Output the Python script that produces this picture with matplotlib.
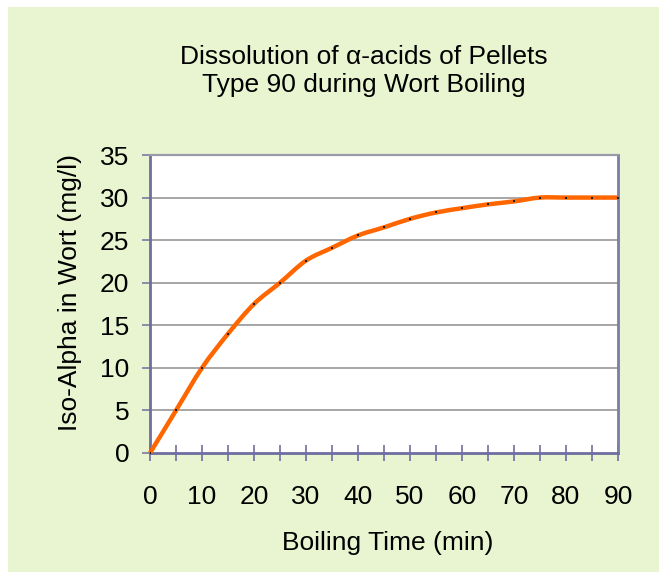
import matplotlib
matplotlib.use("Agg")
import matplotlib.pyplot as plt
from matplotlib.patches import Rectangle, PathPatch
from matplotlib.path import Path

time_min = [0, 5, 10, 15, 20, 25, 30, 35, 40, 45, 50, 55, 60, 65, 70, 75, 80, 85, 90]
iso_alpha = [0, 5, 10, 14, 17.5, 20, 22.6, 24.1, 25.55, 26.5, 27.5, 28.25, 28.75, 29.2, 29.55, 30, 30, 30, 30]
x_ticks = [0, 10, 20, 30, 40, 50, 60, 70, 80, 90]
y_ticks = [0, 5, 10, 15, 20, 25, 30, 35]

W, H = 659, 572
DPI = 100
plt.rcParams['font.family'] = ['Liberation Sans', 'DejaVu Sans']
FS = 19

fig = plt.figure(figsize=(W / DPI, H / DPI), dpi=DPI, facecolor='white')
fig.patches.append(Rectangle((8 / W, 0), 1, 1 - 7 / H, transform=fig.transFigure,
                             facecolor='#E9F5D1', edgecolor='none', zorder=-10))

ax = fig.add_axes([150 / W, 1 - 453 / H, (618 - 150) / W, (453 - 155) / H])
ax.set_facecolor('white')

for y in y_ticks[1:-1]:
    ax.axhline(y, color='#8E8E8E', lw=1.1, zorder=1)

# smoothed line (Excel-style Catmull-Rom Bezier through the data points)
n = len(time_min)
verts = [(time_min[0], iso_alpha[0])]
codes = [Path.MOVETO]
t = 1 / 6
for i in range(n - 1):
    x0, y0 = time_min[max(i - 1, 0)], iso_alpha[max(i - 1, 0)]
    x1, y1 = time_min[i], iso_alpha[i]
    x2, y2 = time_min[i + 1], iso_alpha[i + 1]
    x3, y3 = time_min[min(i + 2, n - 1)], iso_alpha[min(i + 2, n - 1)]
    c1 = (x1 + (x2 - x0) * t, y1 + (y2 - y0) * t)
    c2 = (x2 - (x3 - x1) * t, y2 - (y3 - y1) * t)
    verts += [c1, c2, (x2, y2)]
    codes += [Path.CURVE4] * 3
ax.add_patch(PathPatch(Path(verts, codes), facecolor='none', edgecolor='#FF6600',
                       lw=3.2, zorder=3, clip_on=False, capstyle='butt'))
ax.plot(time_min, iso_alpha, ls='none', marker='s', ms=1.6, color='#202020',
        markeredgewidth=0, zorder=4)

ax.set_xlim(0, 90)
ax.set_ylim(0, 35)
ax.set_xticks(x_ticks)
ax.set_xticks(time_min, minor=True)
ax.set_yticks(y_ticks)

ax.tick_params(axis='x', which='both', direction='inout', length=11.5, width=1.2,
               color='#6E6EA0', pad=17, labelsize=FS)
ax.tick_params(axis='y', which='major', direction='out', length=5.8, width=1.2,
               color='#7A7AA5', pad=9, labelsize=FS)

for s in ['left', 'bottom']:
    ax.spines[s].set_color('#6E6EA0')
    ax.spines[s].set_linewidth(2.0)
ax.spines['right'].set_color('#7C7CA8')
ax.spines['right'].set_linewidth(2.0)
ax.spines['top'].set_color('#9A9AAA')
ax.spines['top'].set_linewidth(1.6)

ax.set_xlabel('Boiling Time (min)', fontsize=FS)
ax.xaxis.set_label_coords((387.5 - 150) / (618 - 150), -(543 - 453) / (453 - 155), transform=ax.transAxes)
ax.xaxis.label.set_va('center')
ax.set_ylabel('Iso-Alpha in Wort (mg/l)', fontsize=FS)
ax.yaxis.set_label_coords(-(150 - 70) / (618 - 150), (453 - 292) / (453 - 155), transform=ax.transAxes)
ax.yaxis.label.set_va('center')

fig.text(364 / W, 1 - 71 / H, 'Dissolution of \u03b1-acids of Pellets\nType 90 during Wort Boiling',
         ha='center', va='center', fontsize=FS, linespacing=1.25)

fig.savefig('out.png', dpi=DPI, facecolor=fig.get_facecolor())
